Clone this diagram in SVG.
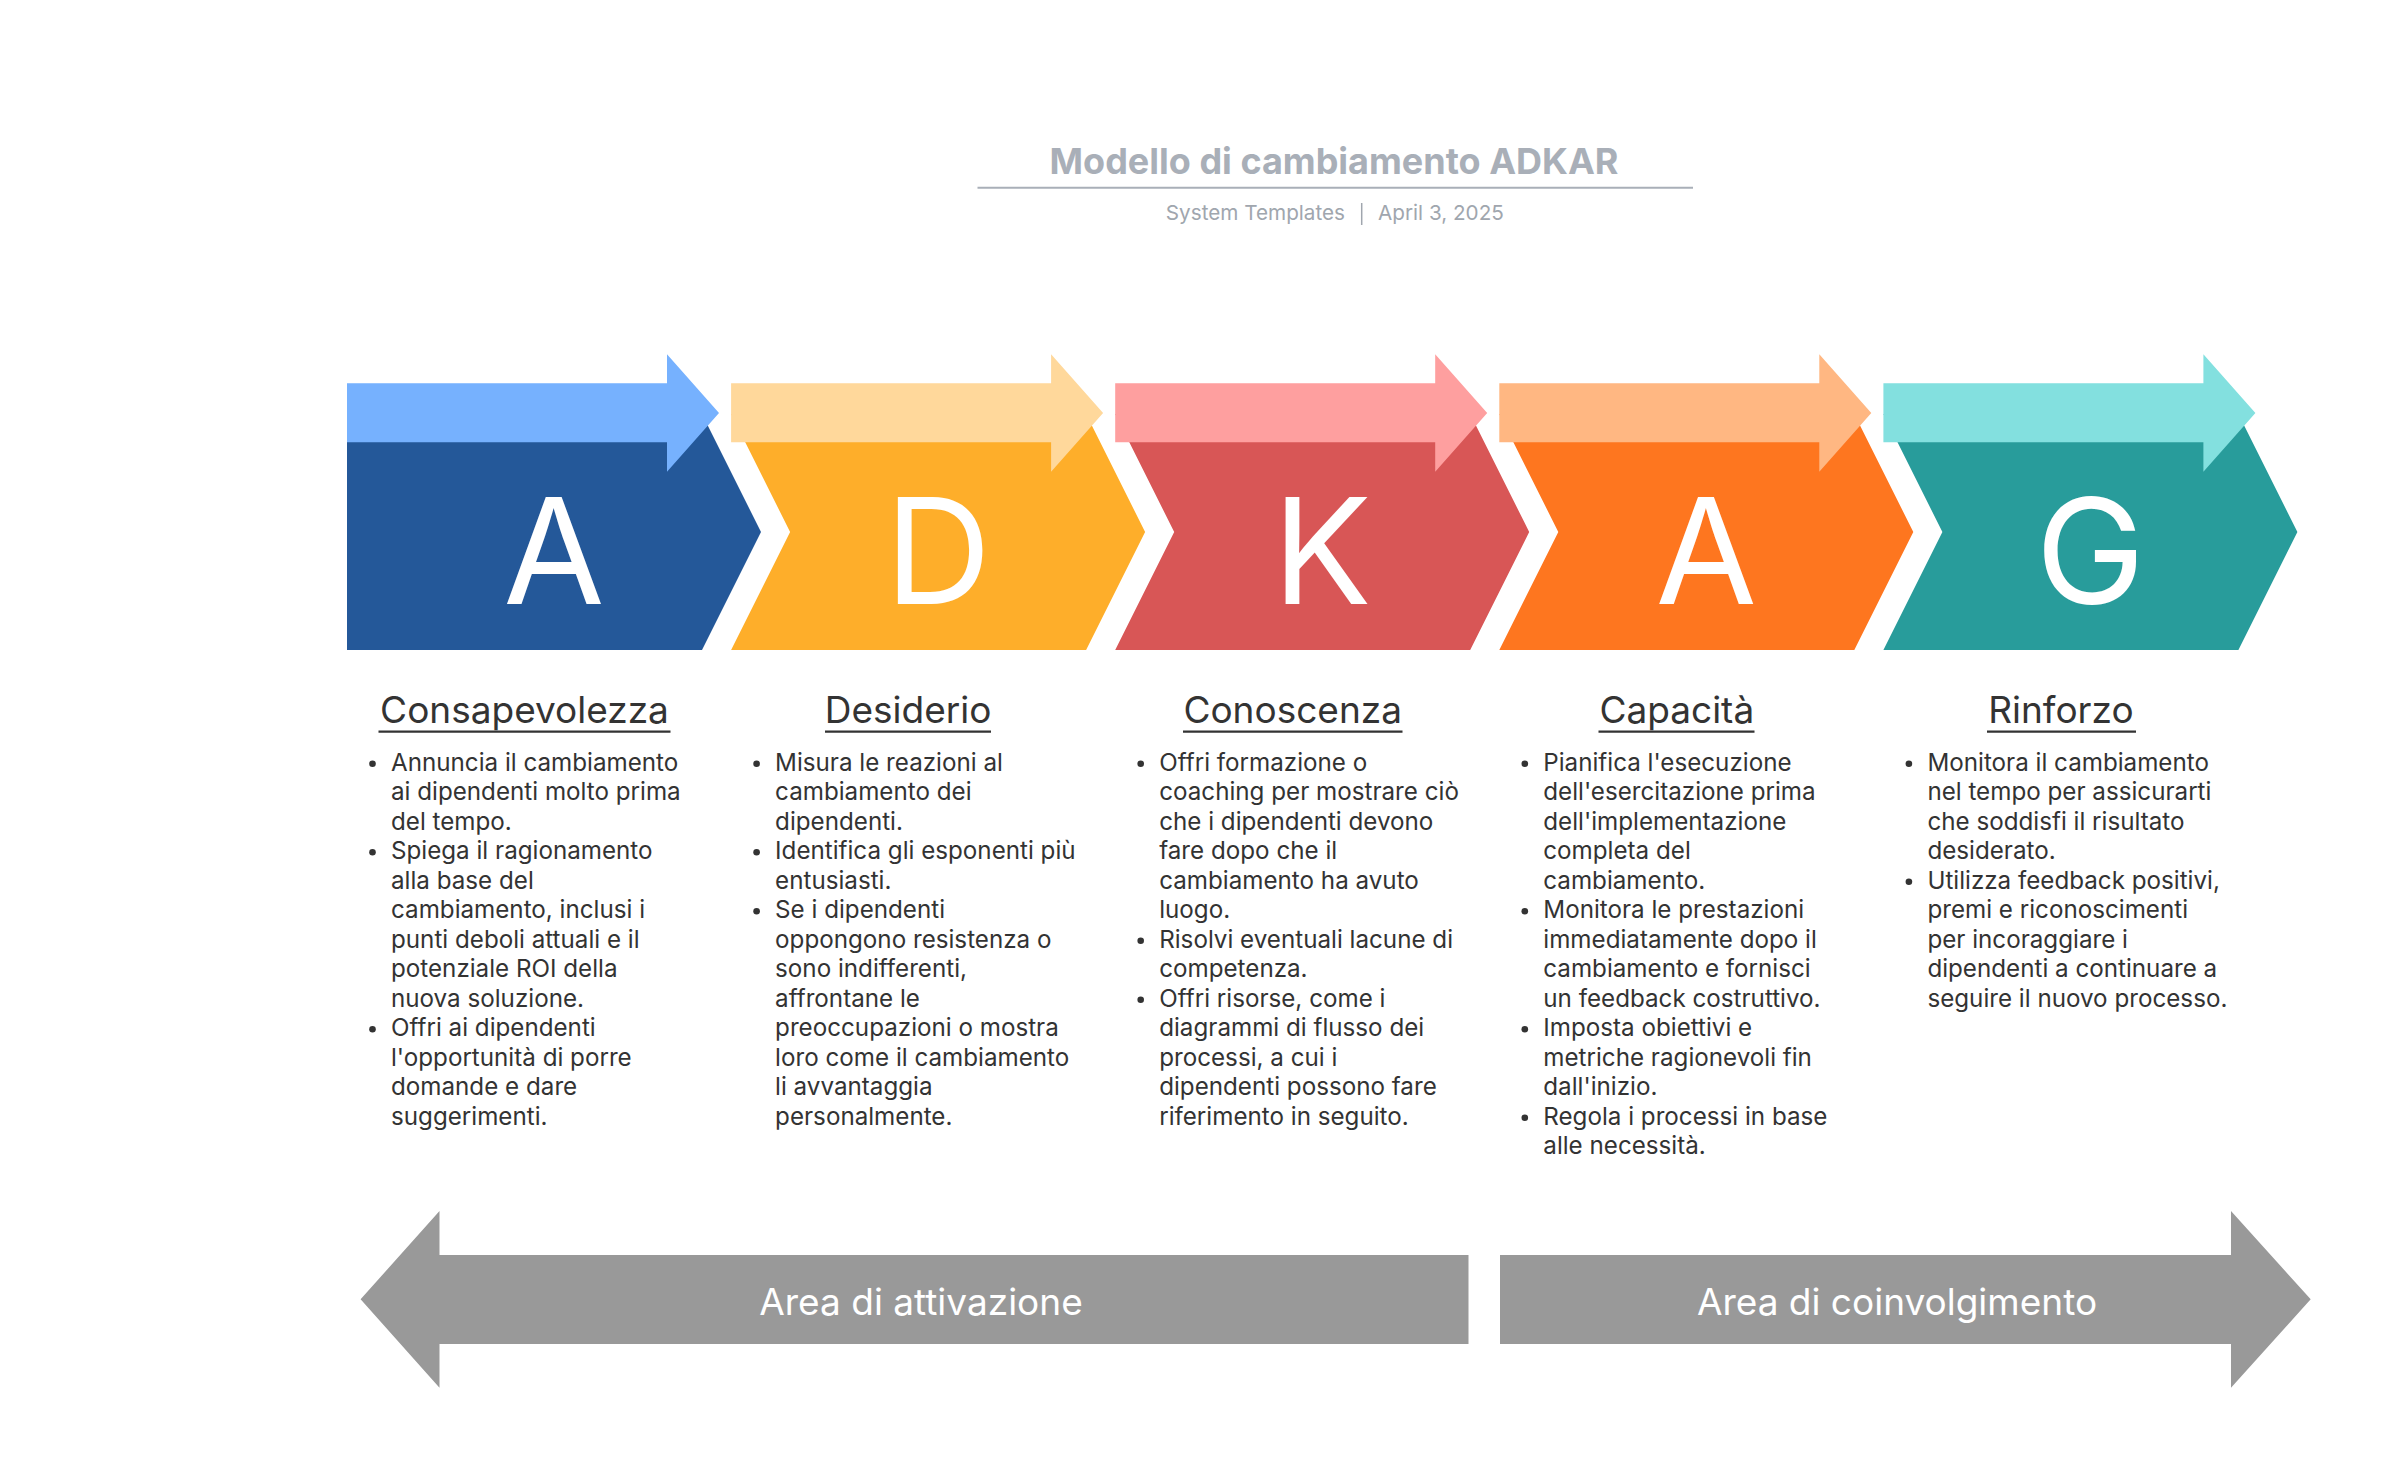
<svg xmlns="http://www.w3.org/2000/svg" xmlns:xlink="http://www.w3.org/1999/xlink" width="2400" height="1478" viewBox="0 0 2400 1478">
<style>
.title{font-family:Inter,"Liberation Sans",sans-serif;font-size:36px;font-weight:700;fill:#a9afb8}
.sub{font-family:Inter,"Liberation Sans",sans-serif;font-size:20.7px;fill:#a0a6ae}
.letter{font-family:Inter,"Liberation Sans",sans-serif;font-size:147px;fill:#ffffff;text-anchor:middle}
.head{font-family:Inter,"Liberation Sans",sans-serif;font-size:37px;fill:#333333;text-anchor:middle}
.body{font-family:Inter,"Liberation Sans",sans-serif;font-size:24.2px;fill:#333333}
.ul{stroke:#333333;stroke-width:2.2}
.dot{fill:#333333}
.area{font-family:Inter,"Liberation Sans",sans-serif;font-size:37px;fill:#ffffff;text-anchor:middle}
.garrow{fill:#999999}
</style>
<defs>
<path id="chevFlat" d="M0,414 H355 L414,532 L355,650 H0 Z"/>
<path id="chev" d="M0,414 H355 L414,532 L355,650 H0 L59,532 Z"/>
<path id="lightArrow" d="M0,383.3 H320 V354.3 L372,413 L320,471.7 V442.3 H0 Z"/>
</defs>
<rect width="2400" height="1478" fill="#ffffff"/>

<g id="header">
<text class="title" x="1334" y="174" text-anchor="middle">Modello di cambiamento ADKAR</text>
<line x1="977.5" y1="187.7" x2="1693" y2="187.7" stroke="#a9afb8" stroke-width="2"/>
<text class="sub" x="1345" y="220" text-anchor="end">System Templates</text>
<line x1="1361.7" y1="203" x2="1361.7" y2="225" stroke="#a0a6ae" stroke-width="1.5"/>
<text class="sub" x="1378" y="220">April 3, 2025</text>
</g>

<g id="stage-awareness">
<use xlink:href="#chevFlat" x="347" fill="#245899"/>
<use xlink:href="#lightArrow" x="347" fill="#76b1fe"/>
<text class="letter" x="554" y="603.5">A</text>
<text class="head" x="524.5" y="723">Consapevolezza</text>
<line class="ul" x1="378.5" y1="731.7" x2="670.5" y2="731.7"/>
<circle class="dot" cx="372.5" cy="763.7" r="3.3"/>
<circle class="dot" cx="372.5" cy="852.2" r="3.3"/>
<circle class="dot" cx="372.5" cy="1029.2" r="3.3"/>
<text class="body">
<tspan x="391" y="770.7">Annuncia il cambiamento</tspan>
<tspan x="391" y="800.2">ai dipendenti molto prima</tspan>
<tspan x="391" y="829.7">del tempo.</tspan>
<tspan x="391" y="859.2">Spiega il ragionamento</tspan>
<tspan x="391" y="888.7">alla base del</tspan>
<tspan x="391" y="918.2">cambiamento, inclusi i</tspan>
<tspan x="391" y="947.7">punti deboli attuali e il</tspan>
<tspan x="391" y="977.2">potenziale ROI della</tspan>
<tspan x="391" y="1006.7">nuova soluzione.</tspan>
<tspan x="391" y="1036.2">Offri ai dipendenti</tspan>
<tspan x="391" y="1065.7">l'opportunità di porre</tspan>
<tspan x="391" y="1095.2">domande e dare</tspan>
<tspan x="391" y="1124.7">suggerimenti.</tspan>
</text>
</g>

<g id="stage-desire">
<use xlink:href="#chev" x="731.1" fill="#feae2a"/>
<use xlink:href="#lightArrow" x="731.1" fill="#ffd89b"/>
<text class="letter" x="938.1" y="603.5">D</text>
<text class="head" x="908.1" y="723">Desiderio</text>
<line class="ul" x1="825" y1="731.7" x2="991" y2="731.7"/>
<circle class="dot" cx="756.6" cy="763.7" r="3.3"/>
<circle class="dot" cx="756.6" cy="852.2" r="3.3"/>
<circle class="dot" cx="756.6" cy="911.2" r="3.3"/>
<text class="body">
<tspan x="775.1" y="770.7">Misura le reazioni al</tspan>
<tspan x="775.1" y="800.2">cambiamento dei</tspan>
<tspan x="775.1" y="829.7">dipendenti.</tspan>
<tspan x="775.1" y="859.2">Identifica gli esponenti più</tspan>
<tspan x="775.1" y="888.7">entusiasti.</tspan>
<tspan x="775.1" y="918.2">Se i dipendenti</tspan>
<tspan x="775.1" y="947.7">oppongono resistenza o</tspan>
<tspan x="775.1" y="977.2">sono indifferenti,</tspan>
<tspan x="775.1" y="1006.7">affrontane le</tspan>
<tspan x="775.1" y="1036.2">preoccupazioni o mostra</tspan>
<tspan x="775.1" y="1065.7">loro come il cambiamento</tspan>
<tspan x="775.1" y="1095.2">li avvantaggia</tspan>
<tspan x="775.1" y="1124.7">personalmente.</tspan>
</text>
</g>

<g id="stage-knowledge">
<use xlink:href="#chev" x="1115.2" fill="#d85656"/>
<use xlink:href="#lightArrow" x="1115.2" fill="#fe9f9f"/>
<text class="letter" x="1322.2" y="603.5">K</text>
<text class="head" x="1292.7" y="723">Conoscenza</text>
<line class="ul" x1="1183" y1="731.7" x2="1402.5" y2="731.7"/>
<circle class="dot" cx="1140.7" cy="763.7" r="3.3"/>
<circle class="dot" cx="1140.7" cy="940.7" r="3.3"/>
<circle class="dot" cx="1140.7" cy="999.7" r="3.3"/>
<text class="body">
<tspan x="1159.2" y="770.7">Offri formazione o</tspan>
<tspan x="1159.2" y="800.2">coaching per mostrare ciò</tspan>
<tspan x="1159.2" y="829.7">che i dipendenti devono</tspan>
<tspan x="1159.2" y="859.2">fare dopo che il</tspan>
<tspan x="1159.2" y="888.7">cambiamento ha avuto</tspan>
<tspan x="1159.2" y="918.2">luogo.</tspan>
<tspan x="1159.2" y="947.7">Risolvi eventuali lacune di</tspan>
<tspan x="1159.2" y="977.2">competenza.</tspan>
<tspan x="1159.2" y="1006.7">Offri risorse, come i</tspan>
<tspan x="1159.2" y="1036.2">diagrammi di flusso dei</tspan>
<tspan x="1159.2" y="1065.7">processi, a cui i</tspan>
<tspan x="1159.2" y="1095.2">dipendenti possono fare</tspan>
<tspan x="1159.2" y="1124.7">riferimento in seguito.</tspan>
</text>
</g>

<g id="stage-ability">
<use xlink:href="#chev" x="1499.3" fill="#fe761f"/>
<use xlink:href="#lightArrow" x="1499.3" fill="#ffb782"/>
<text class="letter" x="1706.3" y="603.5">A</text>
<text class="head" x="1676.8" y="723">Capacità</text>
<line class="ul" x1="1598.5" y1="731.7" x2="1754.5" y2="731.7"/>
<circle class="dot" cx="1524.8" cy="763.7" r="3.3"/>
<circle class="dot" cx="1524.8" cy="911.2" r="3.3"/>
<circle class="dot" cx="1524.8" cy="1029.2" r="3.3"/>
<circle class="dot" cx="1524.8" cy="1117.7" r="3.3"/>
<text class="body">
<tspan x="1543.3" y="770.7">Pianifica l'esecuzione</tspan>
<tspan x="1543.3" y="800.2">dell'esercitazione prima</tspan>
<tspan x="1543.3" y="829.7">dell'implementazione</tspan>
<tspan x="1543.3" y="859.2">completa del</tspan>
<tspan x="1543.3" y="888.7">cambiamento.</tspan>
<tspan x="1543.3" y="918.2">Monitora le prestazioni</tspan>
<tspan x="1543.3" y="947.7">immediatamente dopo il</tspan>
<tspan x="1543.3" y="977.2">cambiamento e fornisci</tspan>
<tspan x="1543.3" y="1006.7">un feedback costruttivo.</tspan>
<tspan x="1543.3" y="1036.2">Imposta obiettivi e</tspan>
<tspan x="1543.3" y="1065.7">metriche ragionevoli fin</tspan>
<tspan x="1543.3" y="1095.2">dall'inizio.</tspan>
<tspan x="1543.3" y="1124.7">Regola i processi in base</tspan>
<tspan x="1543.3" y="1154.2">alle necessità.</tspan>
</text>
</g>

<g id="stage-reinforcement">
<use xlink:href="#chev" x="1883.4" fill="#289c9b"/>
<use xlink:href="#lightArrow" x="1883.4" fill="#83e0df"/>
<text class="letter" x="2090.4" y="603.5">G</text>
<text class="head" x="2060.9" y="723">Rinforzo</text>
<line class="ul" x1="1987" y1="731.7" x2="2136" y2="731.7"/>
<circle class="dot" cx="1908.9" cy="763.7" r="3.3"/>
<circle class="dot" cx="1908.9" cy="881.7" r="3.3"/>
<text class="body">
<tspan x="1927.4" y="770.7">Monitora il cambiamento</tspan>
<tspan x="1927.4" y="800.2">nel tempo per assicurarti</tspan>
<tspan x="1927.4" y="829.7">che soddisfi il risultato</tspan>
<tspan x="1927.4" y="859.2">desiderato.</tspan>
<tspan x="1927.4" y="888.7">Utilizza feedback positivi,</tspan>
<tspan x="1927.4" y="918.2">premi e riconoscimenti</tspan>
<tspan x="1927.4" y="947.7">per incoraggiare i</tspan>
<tspan x="1927.4" y="977.2">dipendenti a continuare a</tspan>
<tspan x="1927.4" y="1006.7">seguire il nuovo processo.</tspan>
</text>
</g>

<g id="connectors">
<g id="area-activation">
<path class="garrow" d="M360.6,1299.3 L439.5,1211 V1255 H1468.5 V1344 H439.5 V1387.7 Z"/>
<text class="area" x="921" y="1315">Area di attivazione</text>
</g>
<g id="area-engagement">
<path class="garrow" d="M1500,1255 H2231 V1211 L2310.7,1299.3 L2231,1387.7 V1344 H1500 Z"/>
<text class="area" x="1897" y="1315">Area di coinvolgimento</text>
</g>
</g>
</svg>
